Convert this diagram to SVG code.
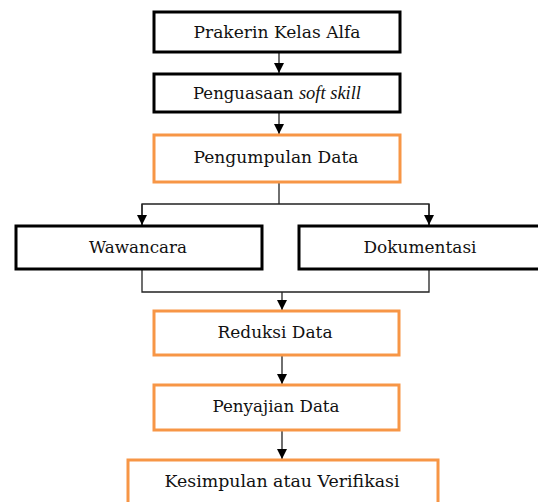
<svg xmlns="http://www.w3.org/2000/svg" width="538" height="502" viewBox="0 0 538 502">
<defs>
<marker id="ah" markerWidth="10" markerHeight="11" refX="10" refY="5" orient="auto" markerUnits="userSpaceOnUse">
<path d="M0,0 L10,5 L0,10 Z" fill="#000"/>
</marker>
<style>
.bk{fill:#fff;stroke:#000;stroke-width:3}
.or{fill:#fff;stroke:#F79646;stroke-width:3}
.t{font-family:'DejaVu Serif','Liberation Serif',serif;font-size:17px;fill:#111;text-anchor:middle}
.i{font-family:'Liberation Serif',serif;font-style:italic;font-size:19px}
.c{fill:none;stroke:#222;stroke-width:1.3}
</style>
</defs>
<rect width="538" height="502" fill="#fff"/>
<g id="connectors">
<line class="c" x1="279" y1="52" x2="279" y2="73" marker-end="url(#ah)"/>
<line class="c" x1="279" y1="112" x2="279" y2="134" marker-end="url(#ah)"/>
<polyline class="c" points="279,182 279,204"/>
<polyline class="c" points="142,225 142,204 429,204 429,225"/>
<line class="c" x1="142" y1="204" x2="142" y2="225" marker-end="url(#ah)"/>
<line class="c" x1="429" y1="204" x2="429" y2="225" marker-end="url(#ah)"/>
<polyline class="c" points="142,269 142,292 429,292 429,269"/>
<line class="c" x1="282" y1="292" x2="282" y2="310" marker-end="url(#ah)"/>
<line class="c" x1="282" y1="356" x2="282" y2="384" marker-end="url(#ah)"/>
<line class="c" x1="282" y1="431" x2="282" y2="459" marker-end="url(#ah)"/>
</g>
<g id="n1"><rect class="bk" x="154" y="12" width="246" height="40"/><text class="t" x="277" y="38" textLength="167" lengthAdjust="spacingAndGlyphs">Prakerin Kelas Alfa</text></g>
<g id="n2"><rect class="bk" x="154" y="74" width="246" height="38"/><text class="t" x="277" y="99" textLength="168" lengthAdjust="spacingAndGlyphs">Penguasaan <tspan class="i">soft skill</tspan></text></g>
<g id="n3"><rect class="or" x="154" y="135" width="246" height="47"/><text class="t" x="276" y="163" textLength="165" lengthAdjust="spacingAndGlyphs">Pengumpulan Data</text></g>
<g id="n4"><rect class="bk" x="16" y="226" width="246" height="43"/><text class="t" x="138" y="253" textLength="98" lengthAdjust="spacingAndGlyphs">Wawancara</text></g>
<g id="n5"><rect class="bk" x="299" y="226" width="245" height="43"/><text class="t" x="420" y="253" textLength="113" lengthAdjust="spacingAndGlyphs">Dokumentasi</text></g>
<g id="n6"><rect class="or" x="154" y="311" width="245" height="44"/><text class="t" x="275" y="338" textLength="115" lengthAdjust="spacingAndGlyphs">Reduksi Data</text></g>
<g id="n7"><rect class="or" x="154" y="385" width="245" height="45"/><text class="t" x="276" y="412" textLength="127" lengthAdjust="spacingAndGlyphs">Penyajian Data</text></g>
<g id="n8"><rect class="or" x="128" y="460" width="310" height="50"/><text class="t" x="282" y="487" textLength="235" lengthAdjust="spacingAndGlyphs">Kesimpulan atau Verifikasi</text></g>
</svg>
